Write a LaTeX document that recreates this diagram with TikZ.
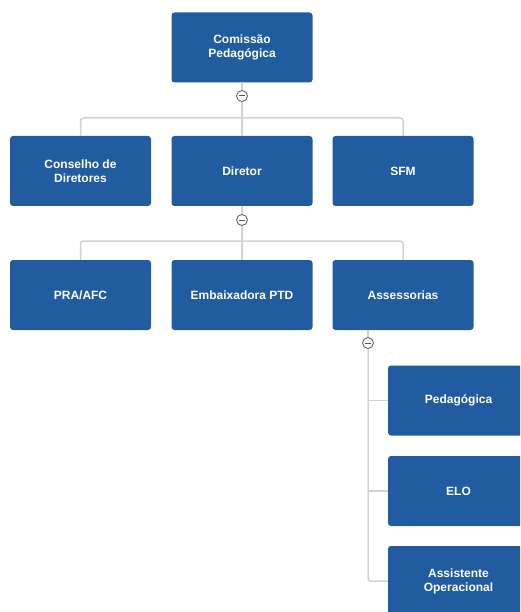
\documentclass[tikz,border=0pt]{standalone}
\usepackage{fontspec}
\setmainfont{Liberation Sans}
\definecolor{boxblue}{HTML}{205C9F}
\definecolor{linkgray}{HTML}{D2D2D2}
\definecolor{togglegray}{HTML}{555555}
\tikzset{
  unit/.style={fill=boxblue, rounded corners=3pt, minimum width=141pt, minimum height=70pt,
    text=white, align=center, inner sep=0pt, font=\fontsize{12}{14}\selectfont\bfseries},
  link/.style={draw=linkgray, line width=1.5pt},
  toggle/.style={circle, draw=togglegray, fill=white, line width=0.8pt, minimum size=11pt, inner sep=0pt,
    path picture={\draw[togglegray, line width=1pt]
      ([xshift=-3pt]path picture bounding box.center) -- ([xshift=3pt]path picture bounding box.center);}}
}
\begin{document}
\begin{tikzpicture}[x=1pt,y=-1pt]
    \useasboundingbox (0,0) rectangle (520,612);
    \clip (0,0) rectangle (520,612);
    % top
    \node[unit] (com) at (242,47.5) {Comissão\\Pedagógica};
    \node[toggle] (tg1) at (242,96) {};
    \coordinate (bar1) at (242,118);
    % second row
    \node[unit] (cons) at (80.5,171) {Conselho de\\Diretores};
    \node[unit] (dir) at (242,171) {Diretor};
    \node[unit] (sfm) at (403,171) {SFM};
    \node[toggle] (tg2) at (242,220) {};
    \coordinate (bar2) at (242,241);
    % third row
    \node[unit] (pra) at (80.5,295) {PRA/AFC};
    \node[unit] (emb) at (242,295) {Embaixadora PTD};
    \node[unit] (ass) at (403,295) {Assessorias};
    \node[toggle] (tg3) at (368,343) {};
    % assessorias
    \node[unit] (ped) at (458.5,400.5) {Pedagógica};
    \node[unit] (elo) at (458.5,491) {ELO};
    \node[unit] (aop) at (458.5,581) {Assistente\\Operacional};
    % links
    \draw[link] (com) -- (tg1); \draw[link] (tg1) -- (dir);
    \draw[link, rounded corners=3pt] (cons.north) |- (bar1) -| (sfm.north);
    \draw[link] (dir) -- (tg2); \draw[link] (tg2) -- (emb);
    \draw[link, rounded corners=3pt] (pra.north) |- (bar2) -| (ass.north);
    \draw[link] (tg3 |- ass.south) -- (tg3);
    \draw[link, rounded corners=3pt] (tg3) |- (aop.west);
    \draw[link] (tg3 |- ped.west) -- (ped.west);
    \draw[link] (tg3 |- elo.west) -- (elo.west);
  \end{tikzpicture}
\end{document}
